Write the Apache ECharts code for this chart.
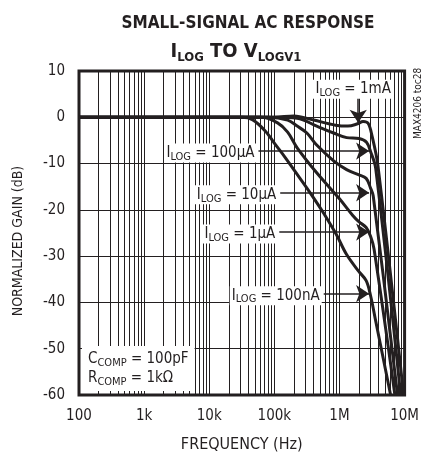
<!DOCTYPE html>
<html><head><meta charset="utf-8">
<script src="https://cdn.jsdelivr.net/npm/echarts@6/dist/echarts.min.js"></script>
<style>html,body{margin:0;padding:0;background:#fff}#c{width:422px;height:458px}</style>
</head><body><div id="c"></div>
<script>
const FONT = "'DejaVu Sans Condensed',sans-serif";
const INK = '#231f20';

// ---- data ----
const xTickLabels = {100: '100', 1000: '1k', 10000: '10k', 100000: '100k', 1000000: '1M', 10000000: '10M'};

const freq_1mA = [100, 1e5, 2e5, 4e5, 8.7e5, 1.35e6, 1.9e6, 2.3e6, 2.75e6, 3.16e6, 3.9e6, 9.66e6];
const gain_1mA = [0, 0, 0.3, -0.6, -1.7, -1.9, -1.4, -0.9, -1.3, -4, -10.5, -60];

const freq_100uA = [100, 1e5, 2.24e5, 4.47e5, 8.13e5, 1.29e6, 2.0e6, 2.6e6, 3.0e6, 3.6e6, 8.7e6];
const gain_100uA = [0, 0, -0.2, -1.9, -3.4, -4.4, -4.6, -5.4, -7.4, -11, -60];

const freq_10uA = [100, 8e4, 1.6e5, 2.24e5, 3.16e5, 4.47e5, 8.13e5, 1.29e6, 1.95e6, 2.57e6, 3.0e6, 3.3e6, 7.8e6];
const gain_10uA = [0, 0, -0.6, -1.9, -3.4, -6, -9.4, -11.3, -12.4, -13.2, -15.3, -17, -60];

const freq_1uA = [100, 6.3e4, 1.12e5, 1.6e5, 2.24e5, 4.47e5, 1.0e6, 1.6e6, 2.0e6, 2.57e6, 3.0e6, 3.4e6, 7.1e6];
const gain_1uA = [0, 0, -1.2, -3.2, -6.6, -12, -17.6, -21.2, -22.6, -23.8, -25.7, -28.5, -60];

const freq_100nA = [100, 3.2e4, 4.6e4, 7.3e4, 1.04e5, 1.47e5, 2.08e5, 3.16e5, 4.17e5, 5.75e5, 9.0e5, 1.28e6, 1.95e6, 2.57e6, 3.0e6, 3.6e6, 6.1e6];
const gain_100nA = [0, 0, -0.5, -3, -5.9, -8.7, -11.7, -15.3, -17.8, -20.8, -25.4, -29.6, -33.2, -35.3, -38.5, -44, -60];

// annotations: label current, arrow start/end (freq, gain)
const annCurrent = ['1mA', '100µA', '10µA', '1µA', '100nA'];
const annStartFreq = [1.94e6, 5.7e4, 1.23e5, 1.19e5, 5.73e5];
const annStartGain = [4.2, -7.3, -16.3, -24.8, -38.1];
const annEndFreq = [1.94e6, 2.85e6, 2.85e6, 2.85e6, 2.85e6];
const annEndGain = [-1.2, -7.3, -16.3, -24.8, -38.1];

const minorMult = [2, 3, 4, 5, 6, 7, 8, 9];
const decades = [100, 1000, 10000, 100000, 1000000];

// ---- build ----
const pairs = (f, g) => f.map((v, i) => [v, g[i]]);
const curves = [
  pairs(freq_1mA, gain_1mA), pairs(freq_100uA, gain_100uA), pairs(freq_10uA, gain_10uA),
  pairs(freq_1uA, gain_1uA), pairs(freq_100nA, gain_100nA)
];
const minorLines = [];
decades.forEach(d => minorMult.forEach(m => minorLines.push({xAxis: d * m})));

const rich = {
  m: {fontSize: 15, fontFamily: FONT, color: INK, lineHeight: 19},
  s: {fontSize: 11, fontFamily: FONT, color: INK, lineHeight: 12, verticalAlign: 'bottom'}
};

const markPts = annCurrent.map((c, i) => {
  const vertical = annStartFreq[i] === annEndFreq[i];
  return {
    coord: [annStartFreq[i], annStartGain[i]],
    symbolSize: 0,
    label: vertical
      ? {show: true, position: 'top', distance: 0, offset: [-5, 1], formatter: '{m|I}{s|LOG}{m| = ' + c + '}', rich, backgroundColor: '#fff', padding: [0, 3, 0, 3]}
      : {show: true, position: 'left', distance: 2, offset: [0, 2], formatter: '{m|I}{s|LOG}{m| = ' + c + '}', rich, backgroundColor: '#fff', padding: [0, 2, 0, 2]}
  };
});
markPts.push({
  coord: [100, -60], symbolSize: 0,
  label: {show: true, position: [3, -4], align: 'left', verticalAlign: 'bottom',
    formatter: '{m|C}{s|COMP}{m| = 100pF}\n{m|R}{s|COMP}{m| = 1kΩ}',
    rich, backgroundColor: '#fff', padding: [4, 6, 3, 6]}
});

const arrows = annCurrent.map((c, i) => [
  {coord: [annStartFreq[i], annStartGain[i]]},
  {coord: [annEndFreq[i], annEndGain[i]]}
]);

const series = curves.map((d, i) => ({
  type: 'line', data: d, showSymbol: false, smooth: 0.35, z: 3,
  lineStyle: {color: INK, width: 3}, itemStyle: {color: INK}, silent: true, animation: false
}));
series.unshift({
  type: 'line', data: [], z: 1, silent: true, animation: false,
  markLine: {silent: true, symbol: 'none', label: {show: false}, animation: false,
    lineStyle: {color: INK, width: 1, type: 'solid'}, emphasis: {disabled: true}, data: minorLines}
});
series.push({
  type: 'line', data: [], z: 5, silent: true, animation: false,
  markLine: {silent: true, symbol: ['none', 'arrow'], symbolSize: 13, label: {show: false}, animation: false,
    lineStyle: {color: INK, width: 1.5, type: 'solid'}, itemStyle: {color: INK}, emphasis: {disabled: true}, data: arrows},
  markPoint: {silent: true, symbol: 'circle', symbolSize: 0, animation: false, data: markPts}
});

const chart = echarts.init(document.getElementById('c'), null, {renderer: 'canvas'});
chart.setOption({
  animation: false,
  backgroundColor: '#fff',
  title: [
    {text: 'SMALL-SIGNAL AC RESPONSE', left: 243, top: 10, textAlign: 'center',
      textStyle: {fontFamily: FONT, fontWeight: 'bold', fontSize: 17, color: INK}},
    {text: '{t|I}{u|LOG}{t| TO V}{u|LOGV1}', left: 231, top: 35, textAlign: 'center',
      textStyle: {rich: {
        t: {fontFamily: FONT, fontWeight: 'bold', fontSize: 20, color: INK, lineHeight: 24},
        u: {fontFamily: FONT, fontWeight: 'bold', fontSize: 13, color: INK, lineHeight: 14, verticalAlign: 'bottom'}
      }}}
  ],
  grid: {left: 79, top: 71, width: 330, height: 327, show: true, borderColor: INK, borderWidth: 3, backgroundColor: 'transparent'},
  xAxis: {
    type: 'log', logBase: 10, min: 100, max: 1e7,
    name: 'FREQUENCY (Hz)', nameLocation: 'middle', nameGap: 42,
    nameTextStyle: {fontFamily: FONT, fontSize: 16, color: INK},
    axisLine: {show: false}, axisTick: {show: false},
    axisLabel: {fontFamily: FONT, fontSize: 15, color: INK, margin: 14, formatter: v => xTickLabels[Math.round(v)] || ''},
    splitLine: {show: true, lineStyle: {color: INK, width: 1}}
  },
  yAxis: {
    type: 'value', min: -60, max: 10, interval: 10,
    name: 'NORMALIZED GAIN (dB)', nameLocation: 'middle', nameGap: 54,
    nameTextStyle: {fontFamily: FONT, fontSize: 14, color: INK, padding: [0, 16, 0, 0]},
    axisLine: {show: false}, axisTick: {show: false},
    axisLabel: {fontFamily: FONT, fontSize: 15, color: INK, margin: 14},
    splitLine: {show: true, lineStyle: {color: INK, width: 1}}
  },
  graphic: [{
    type: 'text', x: 418, y: 139, rotation: Math.PI / 2,
    style: {text: 'MAX4206 toc28', fontFamily: FONT, fontSize: 10, fill: INK, align: 'left', verticalAlign: 'middle'}
  }],
  series
});
</script></body></html>
